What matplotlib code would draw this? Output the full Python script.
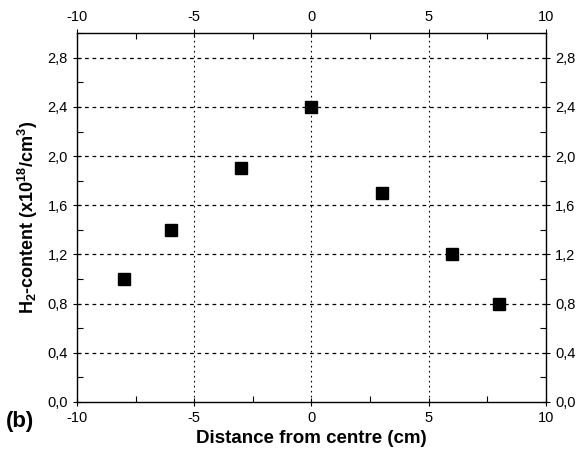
import matplotlib
matplotlib.use('Agg')
import matplotlib.pyplot as plt
from matplotlib.ticker import MultipleLocator, FuncFormatter

plt.rcParams['font.family'] = ['Liberation Sans', 'DejaVu Sans']
plt.rcParams['axes.unicode_minus'] = False
plt.rcParams['mathtext.fontset'] = 'custom'
plt.rcParams['mathtext.rm'] = 'Liberation Sans:bold'
plt.rcParams['mathtext.default'] = 'rm'

distance = [-8, -6, -3, 0, 3, 6, 8]
h2_content = [1.0, 1.4, 1.9, 2.4, 1.7, 1.2, 0.8]
y_ticks = [0.0, 0.4, 0.8, 1.2, 1.6, 2.0, 2.4, 2.8]
x_ticks = [-10, -5, 0, 5, 10]

fig = plt.figure(figsize=(5.87, 4.49), dpi=100)
ax = fig.add_axes([0.131, 0.105, 0.799, 0.821])

# grid lines
for y in y_ticks[1:]:
    ax.axhline(y, color='black', lw=0.9, ls=(0, (3, 3)), zorder=1)
for x in x_ticks[1:-1]:
    ax.axvline(x, color='black', lw=0.8, ls=(0, (1.5, 3)), zorder=1)

ax.plot(distance, h2_content, 's', color='black', ms=9, zorder=3)

ax.set_xlim(-10, 10)
ax.set_ylim(0, 3.0)
ax.set_xticks(x_ticks)
ax.set_yticks(y_ticks)
ax.xaxis.set_minor_locator(MultipleLocator(2.5))
ax.yaxis.set_minor_locator(MultipleLocator(0.2))
ax.yaxis.set_major_formatter(FuncFormatter(lambda v, p: f"{v:.1f}".replace('.', ',')))

ax.tick_params(which='both', top=True, right=True, labeltop=True, labelright=True,
               direction='inout', labelsize=10.5, width=0.8)
ax.tick_params(which='major', length=6)
ax.tick_params(which='minor', direction='in', length=4)
for s in ax.spines.values():
    s.set_linewidth(1.0)

ax.set_xlabel('Distance from centre (cm)', fontsize=13.5, fontweight='bold', labelpad=4)
ax.set_ylabel(r'H$_2$-content (x10$^{18}$/cm$^3$)', fontsize=13, fontweight='bold', labelpad=5)
fig.text(0.01, 0.05, '(b)', fontsize=16, fontweight='bold')

plt.savefig('out.png', dpi=100)
